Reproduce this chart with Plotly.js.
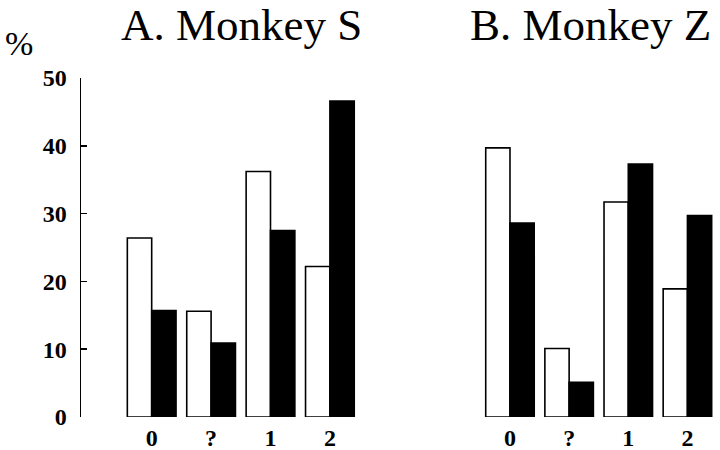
<!DOCTYPE html>
<html>
<head>
<meta charset="utf-8">
<script src="https://cdn.plot.ly/plotly-3.0.1.min.js"></script>
<style>
  html, body { margin: 0; padding: 0; background: #fff; }
  #chart { width: 720px; height: 450px; }
</style>
</head>
<body>
<div id="chart"></div>
<script>
// categories on the x axis
const categories = ['0', '?', '1', '2'];

// Monkey S (panel A), percent
const monkeyS_open = [26.4, 15.6, 36.2, 22.2];
const monkeyS_filled = [15.7, 10.9, 27.5, 46.6];

// Monkey Z (panel B), percent
const monkeyZ_open = [39.7, 10.1, 31.7, 18.9];
const monkeyZ_filled = [28.6, 5.1, 37.3, 29.7];

const yTicks = [0, 10, 20, 30, 40, 50];

const W = 720, H = 450;
const px = x => x / W;
const py = y => (H - y) / H;

const serif = '"Liberation Serif", "Times New Roman", serif';
const outline = { color: '#000', width: 1.6 };

function bar(x, y, fill, xa, ya) {
    return {
        type: 'bar',
        x: x,
        y: y,
        xaxis: xa,
        yaxis: ya,
        marker: { color: fill, line: outline },
        hoverinfo: 'x+y',
        showlegend: false
    };
}

const traces = [
    bar(categories, monkeyS_open, '#fff', 'x', 'y'),
    bar(categories, monkeyS_filled, '#000', 'x', 'y'),
    bar(categories, monkeyZ_open, '#fff', 'x2', 'y2'),
    bar(categories, monkeyZ_filled, '#000', 'x2', 'y2')
];

const tickFont = () => ({ family: serif, size: 24, color: '#000', weight: 'bold' });
const yDomain = [py(417), py(78)];

// panel A starts further left so the y axis line sits where the original has it
const xA = {
    type: 'category',
    domain: [px(81), px(359.6)],
    range: [-1.19, 3.5],
    anchor: 'y',
    showline: false,
    showgrid: false,
    zeroline: false,
    ticks: '',
    tickfont: tickFont(),
    ticklabelstandoff: 4,
    fixedrange: true
};
const xB = Object.assign({}, xA, {
    domain: [px(480.4), px(717)],
    range: [-0.5, 3.5],
    anchor: 'y2',
    tickfont: tickFont()
});

const layout = {
    width: W,
    height: H,
    margin: { l: 0, r: 0, t: 0, b: 0 },
    paper_bgcolor: '#fff',
    plot_bgcolor: '#fff',
    barmode: 'group',
    bargap: 0.18,
    bargroupgap: 0,
    showlegend: false,
    xaxis: xA,
    xaxis2: xB,
    yaxis: {
        domain: yDomain,
        range: [0, 50],
        anchor: 'x',
        tickvals: yTicks,
        ticktext: yTicks.map(String),
        ticks: 'inside',
        ticklen: 6,
        tickwidth: 1.5,
        tickcolor: '#000',
        showline: true,
        linecolor: '#000',
        linewidth: 1.5,
        showgrid: false,
        zeroline: false,
        tickfont: tickFont(),
        ticklabelstandoff: 8,
        fixedrange: true
    },
    yaxis2: {
        domain: yDomain,
        range: [0, 50],
        anchor: 'x2',
        visible: false,
        fixedrange: true
    },
    annotations: [
        {
            text: 'A. Monkey S', xref: 'paper', yref: 'paper',
            x: px(241.5), y: py(25), xanchor: 'center', yanchor: 'middle',
            showarrow: false, font: { family: serif, size: 45, color: '#000' }
        },
        {
            text: 'B. Monkey Z', xref: 'paper', yref: 'paper',
            x: px(590.5), y: py(25), xanchor: 'center', yanchor: 'middle',
            showarrow: false, font: { family: serif, size: 45, color: '#000' }
        },
        {
            text: '%', xref: 'paper', yref: 'paper',
            x: px(19), y: py(44), xanchor: 'center', yanchor: 'middle',
            showarrow: false, font: { family: serif, size: 34, color: '#000' }
        }
    ]
};

Plotly.newPlot('chart', traces, layout, { displayModeBar: false, staticPlot: true });
</script>
</body>
</html>
